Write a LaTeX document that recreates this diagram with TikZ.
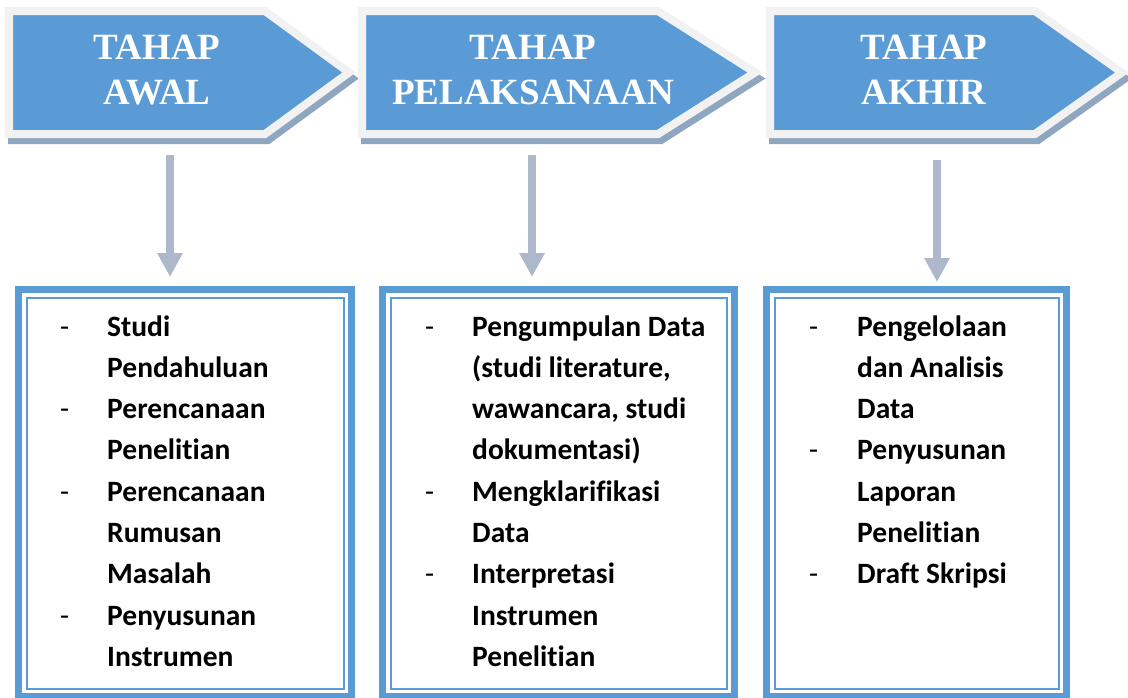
\documentclass[tikz,border=0pt]{standalone}
\usepackage{fontspec}
\setmainfont{Liberation Serif}
\newfontfamily\boxfont[Ligatures=CommonOff]{Carlito}
\usetikzlibrary{arrows.meta}
\definecolor{tblue}{HTML}{5B9BD5}
\definecolor{tedge}{HTML}{F2F2F2}
\definecolor{tshadow}{HTML}{8EA6C0}
\definecolor{tarrow}{HTML}{ADB9CA}
\tikzset{
  stage/.style={fill=tblue, draw=tedge, line width=8pt},
  stageshadow/.style={fill=tshadow, draw=tshadow, line width=8pt},
  title/.style={text=white, font=\bfseries\fontsize{37}{45}\selectfont, align=center, inner sep=0pt},
  down/.style={draw=tarrow, line width=8pt, -{Triangle[width=24pt,length=24pt]}},
  outerbox/.style={draw=tblue, line width=7pt},
  innerbox/.style={draw=tblue, line width=2pt},
  steps/.style={font=\boxfont\bfseries\fontsize{29.5}{41.3}\selectfont, anchor=base west, inner sep=0pt}
}
\newcommand\dash{\mdseries -}
\begin{document}
\begin{tikzpicture}[x=1pt, y=-1pt]
  \useasboundingbox (0,0) rectangle (1128,697);
  \foreach \l/\r/\t in {9/265/349, 362/658/755, 770/1035/1122} {
    \draw[stageshadow, shift={(3,6)}] (\l,11) -- (\r,11) -- (\t,72.5) -- (\r,134) -- (\l,134) -- cycle;
    \draw[stage] (\l,11) -- (\r,11) -- (\t,72.5) -- (\r,134) -- (\l,134) -- cycle;
  }
  \node (t1) [title] at (157,70) {TAHAP\\AWAL};
  \node (t2) [title] at (533,70) {TAHAP\\PELAKSANAAN};
  \node (t3) [title] at (924,70) {TAHAP\\AKHIR};

  \draw[outerbox] (18.5,289.5) rectangle (351.5,696.5);
  \draw[innerbox] (26.5,297.5) rectangle (343.5,688.5);
  \draw[outerbox] (382.5,289.5) rectangle (734.5,696.5);
  \draw[innerbox] (390.5,297.5) rectangle (726.5,688.5);
  \draw[outerbox] (766.5,289.5) rectangle (1066.5,696.5);
  \draw[innerbox] (774.5,297.5) rectangle (1058.5,688.5);

  \node (b1) [steps] at (60,336) {\begin{tabular}[t]{@{}p{47pt}@{}l@{}}
    \dash & Studi\\
      & Pendahuluan\\
    \dash & Perencanaan\\
      & Penelitian\\
    \dash & Perencanaan\\
      & Rumusan\\
      & Masalah\\
    \dash & Penyusunan\\
      & Instrumen
  \end{tabular}};
  \node (b2) [steps] at (425,336) {\begin{tabular}[t]{@{}p{47pt}@{}l@{}}
    \dash & Pengumpulan Data\\
      & (studi literature,\\
      & wawancara, studi\\
      & dokumentasi)\\
    \dash & Mengklarifikasi\\
      & Data\\
    \dash & Interpretasi\\
      & Instrumen\\
      & Penelitian
  \end{tabular}};
  \node (b3) [steps] at (809,336) {\begin{tabular}[t]{@{}p{48pt}@{}l@{}}
    \dash & Pengelolaan\\
      & dan Analisis\\
      & Data\\
    \dash & Penyusunan\\
      & Laporan\\
      & Penelitian\\
    \dash & Draft Skripsi
  \end{tabular}};

  \coordinate (s1) at (170,155);
  \coordinate (e1) at (170,277);
  \coordinate (s2) at (532,155);
  \coordinate (e2) at (532,277);
  \coordinate (s3) at (937,160);
  \coordinate (e3) at (937,282);
  \draw[down] (s1) -- (e1);
  \draw[down] (s2) -- (e2);
  \draw[down] (s3) -- (e3);
\end{tikzpicture}
\end{document}
